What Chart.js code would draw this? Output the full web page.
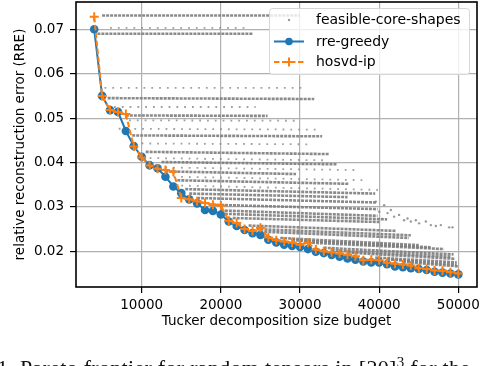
<!DOCTYPE html>
<html>
<head>
<meta charset="utf-8">
<script src="https://cdn.jsdelivr.net/npm/chart.js@4/dist/chart.umd.min.js"></script>
<style>
  html, body { margin: 0; padding: 0; background: #fff; overflow: hidden; }
  #wrap { position: relative; width: 480px; height: 366px; overflow: hidden; }
  #c { position: absolute; left: 0; top: 0; }
  #caption { position: absolute; left: -3px; top: 354px; white-space: nowrap;
    font-family: "Liberation Serif", "DejaVu Serif", serif; font-size: 22px; color: #111; letter-spacing: 0.3px; }
</style>
</head>
<body>
<div id="wrap">
  <canvas id="c" width="480" height="366"></canvas>
  <div id="caption">1. Pareto frontier for random tensors in [20]<sup style="font-size:15px">3</sup> for the</div>
</div>
<script>
// ---- data ----
const budgets = [4000,5000,6000,7000,8000,9000,10000,11000,12000,13000,14000,15000,16000,17000,18000,19000,20000,
  21000,22000,23000,24000,25000,26000,27000,28000,29000,30000,31000,32000,33000,34000,35000,36000,37000,38000,39000,40000,
  41000,42000,43000,44000,45000,46000,47000,48000,49000,50000];
const rreGreedy = [0.0700,0.0550,0.0518,0.0514,0.0471,0.0437,0.0413,0.0394,0.0387,0.0368,0.0346,0.0331,0.0317,0.0308,0.0293,0.0291,0.0283,
  0.0267,0.0257,0.0248,0.0241,0.0237,0.0226,0.0220,0.0215,0.0212,0.0210,0.0205,0.0199,0.0196,0.0192,0.0188,0.0184,0.0181,0.0177,0.0175,0.0175,
  0.0171,0.0166,0.0164,0.0162,0.0160,0.0158,0.0154,0.0152,0.0150,0.0148];
const hosvdIp = [0.0728,0.0550,0.0518,0.0514,0.0509,0.0436,0.0411,0.0393,0.0386,0.0383,0.0379,0.0320,0.0317,0.0313,0.0309,0.0305,0.0303,
  0.0269,0.0264,0.0250,0.0246,0.0253,0.0231,0.0225,0.0222,0.0220,0.0215,0.0219,0.0204,0.0200,0.0198,0.0195,0.0192,0.0189,0.0180,0.0181,0.0180,
  0.0174,0.0172,0.0170,0.0168,0.0162,0.0160,0.0157,0.0156,0.0153,0.0150];
// feasible core shapes: dense rows [xStart, xEnd, yStart, yEnd]
const denseRows = [
  [5000,30000,0.0731,0.0731],[4400,24000,0.0690,0.0690],[5700,31800,0.0545,0.0543],[8000,25900,0.0506,0.0505],
  [8800,32800,0.0461,0.0459],[10500,33700,0.0424,0.0419],[12500,34700,0.0401,0.0396],[13000,29500,0.0380,0.0374],
  [14500,36200,0.0360,0.0352],[15500,39500,0.0340,0.0330],[16000,36000,0.0330,0.0322],[17000,39600,0.0320,0.0310],
  [18500,39800,0.0305,0.0295],[19500,41000,0.0285,0.0272],[20000,39800,0.0292,0.0280],[21500,40000,0.0275,0.0266],
  [23500,42100,0.0258,0.0246],[24500,44000,0.0250,0.0236],[25500,43750,0.0244,0.0230],[27500,45000,0.0230,0.0214],
  [29000,46500,0.0225,0.0209],[30500,48200,0.0220,0.0205],[33000,49400,0.0208,0.0193],[34000,49000,0.0202,0.0188],
  [36000,49600,0.0197,0.0183],[39500,49800,0.0186,0.0175],[41000,49800,0.0182,0.0170],[43000,50000,0.0176,0.0166]
];
// sparse rows [xStart, xEnd, yStart, yEnd]
const sparseRows = [
  [6000,23000,0.0703,0.0703],[5300,30600,0.0568,0.0568],[6500,24400,0.0525,0.0525],[8400,29800,0.0495,0.0494],
  [7100,32000,0.0476,0.0474],[9000,31000,0.0443,0.0441],[11000,33000,0.0410,0.0405],[12000,37000,0.0389,0.0383],
  [14000,38500,0.0368,0.0360],[15000,40500,0.0348,0.0338]
];
// isolated shapes
const loosePoints = [
  [39580,0.0312],[40000,0.0289],[40630,0.0304],[41060,0.0286],[41480,0.0293],[41890,0.0278],[42520,0.0282],
  [43150,0.0270],[43580,0.0274],[44000,0.0267],[44630,0.0270],[45050,0.0263],[45900,0.0267],[46530,0.0259],
  [47160,0.0257],[47790,0.0259],[48840,0.0254],[49260,0.0254]
];
const xTicks = [10000,20000,30000,40000,50000];
const yTicks = [0.02,0.03,0.04,0.05,0.06,0.07];
const seriesNames = ['feasible-core-shapes','rre-greedy','hosvd-ip'];

// ---- build ----
const FONT = "'DejaVu Sans', sans-serif";
const GRAY = 'rgba(125,125,125,0.9)';
const BLUE = '#1f77b4', ORANGE = '#ff7f0e';
const datasets = [];
denseRows.forEach(r => datasets.push({
  type: 'line', data: [{x:r[0],y:r[2]},{x:r[1],y:r[3]}], showLine: true, borderColor: GRAY,
  borderWidth: 2.6, borderDash: [3,1], pointRadius: 0, fill: false, order: 5
}));
sparseRows.forEach(r => datasets.push({
  type: 'line', data: [{x:r[0],y:r[2]},{x:r[1],y:r[3]}], showLine: true, borderColor: 'rgba(128,128,128,0.75)',
  borderWidth: 1.8, borderDash: [1.8,6], pointRadius: 0, fill: false, order: 5
}));
datasets.push({
  type: 'scatter', data: loosePoints.map(p => ({x:p[0], y:p[1]})), pointRadius: 1.2,
  backgroundColor: 'rgba(128,128,128,0.8)', borderWidth: 0, order: 5
});
datasets.push({
  type: 'line', label: seriesNames[1], data: budgets.map((b,i) => ({x:b, y:rreGreedy[i]})),
  borderColor: BLUE, backgroundColor: BLUE, borderWidth: 2, pointRadius: 4.3, pointBorderWidth: 0,
  pointBackgroundColor: BLUE, fill: false, tension: 0, order: 2
});
datasets.push({
  type: 'line', label: seriesNames[2], data: budgets.map((b,i) => ({x:b, y:hosvdIp[i]})),
  borderColor: ORANGE, backgroundColor: ORANGE, borderWidth: 2, borderDash: [5.5,2.5],
  pointStyle: 'cross', pointRadius: 4.5, pointBorderWidth: 2, pointBorderColor: ORANGE, fill: false, tension: 0, order: 1
});

const framePlugin = {
  id: 'frame',
  afterDatasetsDraw(chart) {
    const {ctx, chartArea: a} = chart;
    ctx.save();
    ctx.strokeStyle = '#000'; ctx.lineWidth = 1.6;
    ctx.strokeRect(a.left, a.top, a.right - a.left, a.bottom - a.top);
    ctx.restore();
  },
  afterDraw(chart) {
    const {ctx} = chart;
    ctx.save();
    const bx = 269.5, by = 8.5, bw = 200, bh = 66, r = 3;
    ctx.globalAlpha = 0.8;
    ctx.fillStyle = '#fff';
    ctx.beginPath(); ctx.roundRect(bx, by, bw, bh, r); ctx.fill();
    ctx.globalAlpha = 1;
    ctx.strokeStyle = '#d6d6d6'; ctx.lineWidth = 1;
    ctx.beginPath(); ctx.roundRect(bx, by, bw, bh, r); ctx.stroke();
    const rows = [20, 41.5, 62];
    const hx0 = 274, hx1 = 304, hc = 289;
    ctx.fillStyle = 'rgba(128,128,128,0.8)';
    ctx.beginPath(); ctx.arc(hc, rows[0], 1.2, 0, Math.PI*2); ctx.fill();
    ctx.strokeStyle = BLUE; ctx.lineWidth = 2;
    ctx.beginPath(); ctx.moveTo(hx0, rows[1]); ctx.lineTo(hx1, rows[1]); ctx.stroke();
    ctx.fillStyle = BLUE; ctx.beginPath(); ctx.arc(hc, rows[1], 3.8, 0, Math.PI*2); ctx.fill();
    ctx.strokeStyle = ORANGE; ctx.setLineDash([5.5,2.5]);
    ctx.beginPath(); ctx.moveTo(hx0, rows[2]); ctx.lineTo(hx1, rows[2]); ctx.stroke();
    ctx.setLineDash([]);
    ctx.beginPath(); ctx.moveTo(hc-4.5, rows[2]); ctx.lineTo(hc+4.5, rows[2]);
    ctx.moveTo(hc, rows[2]-4.5); ctx.lineTo(hc, rows[2]+4.5); ctx.stroke();
    ctx.fillStyle = '#000'; ctx.font = "14px " + FONT; ctx.textBaseline = 'middle'; ctx.textAlign = 'left';
    seriesNames.forEach((n,i) => ctx.fillText(n, 316, rows[i] + 0.5));
    ctx.restore();
  }
};

new Chart(document.getElementById('c'), {
  type: 'scatter',
  data: { datasets },
  options: {
    responsive: false, animation: false, devicePixelRatio: 1,
    layout: { autoPadding: false, padding: { left: 0, top: 2, right: 3, bottom: 0 } },
    plugins: { legend: { display: false }, tooltip: { enabled: false } },
    scales: {
      x: {
        type: 'linear', min: 1700, max: 52360,
        afterBuildTicks: s => { s.ticks = xTicks.map(v => ({value: v})); },
        afterFit: s => { s.height = 79; s.paddingLeft = 0; s.paddingRight = 0; },
        grid: { color: '#b0b0b0', lineWidth: 1.2, tickColor: '#000', tickLength: 6, tickWidth: 1.2 },
        border: { display: false },
        ticks: { color: '#000', font: { family: FONT, size: 13.5 }, padding: 4, maxRotation: 0,
          callback: v => String(v) },
        title: { display: true, text: 'Tucker decomposition size budget', color: '#000',
          font: { family: FONT, size: 13.5 }, padding: { top: 0, bottom: 36 } }
      },
      y: {
        type: 'linear', min: 0.01196, max: 0.07615,
        afterBuildTicks: s => { s.ticks = yTicks.map(v => ({value: v})); },
        afterFit: s => { s.width = 76; s.paddingTop = 0; s.paddingBottom = 0; },
        grid: { color: '#b0b0b0', lineWidth: 1.2, tickColor: '#000', tickLength: 6, tickWidth: 1.2 },
        border: { display: false },
        ticks: { color: '#000', font: { family: FONT, size: 13.5 }, padding: 6,
          callback: v => v.toFixed(2) },
        title: { display: true, text: 'relative reconstruction error (RRE)', color: '#000',
          font: { family: FONT, size: 13.5 }, padding: { top: 12, bottom: 0 } }
      }
    }
  },
  plugins: [framePlugin]
});
</script>
</body>
</html>
